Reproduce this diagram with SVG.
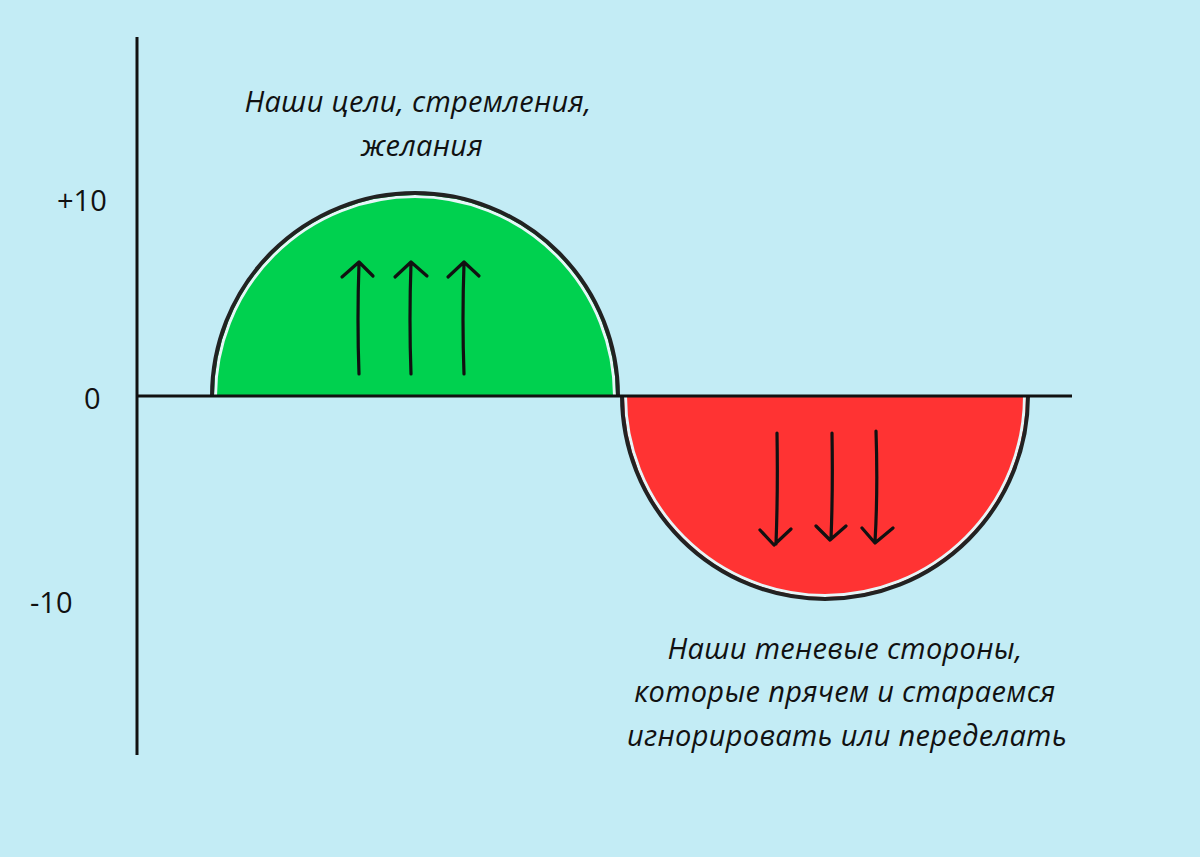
<svg xmlns="http://www.w3.org/2000/svg" width="1200" height="857" viewBox="0 0 1200 857">
<style>
.axis{stroke:#111;stroke-width:3;fill:none}
.rim{fill:none;stroke:#222;stroke-width:4}
.gap{fill:none;stroke:#e6f6f8;stroke-width:3}
.arr{fill:none;stroke:#111;stroke-width:3.2;stroke-linecap:round;stroke-linejoin:round}
.num{font-family:"Open Sans","Noto Sans",sans-serif;font-size:29px;fill:#111}
.lbl{font-family:"Open Sans","Noto Sans",sans-serif;font-style:italic;font-size:29px;fill:#111;text-anchor:middle;letter-spacing:0.3px}
</style>
<rect width="1200" height="857" fill="#c3ecf5"/>
<g id="green">
<path d="M212 396 A203 203 0 0 1 618 396 Z" fill="#00d14f"/>
<path class="gap" d="M215.5 396 A199.5 199.5 0 0 1 614.5 396"/>
<path class="rim" d="M212 396 A203 203 0 0 1 618 396"/>
</g>
<g id="red">
<path d="M622 396 A203 203 0 0 0 1028 396 Z" fill="#ff3333"/>
<path class="gap" d="M625.5 396 A199.5 199.5 0 0 0 1024.5 396"/>
<path class="rim" d="M622 396 A203 203 0 0 0 1028 396"/>
</g>
<g id="axes">
<line class="axis" x1="137" y1="37" x2="137" y2="755"/>
<line class="axis" x1="137" y1="396" x2="1072" y2="396"/>
</g>
<g id="up-arrows">
<path class="arr" d="M359 374 Q357 320 359 263 M342 277 L359 262 L373 276"/>
<path class="arr" d="M411 374 Q409 320 411 263 M395 277 L411 262 L427 276"/>
<path class="arr" d="M464 374 Q462 320 464 263 M448 277 L464 262 L479 276"/>
</g>
<g id="down-arrows">
<path class="arr" d="M777 433 Q778 490 776 544 M760 530 L774 545 L791 529"/>
<path class="arr" d="M832 433 Q833 490 831 539 M816 526 L830 540 L846 526"/>
<path class="arr" d="M876 431 Q878 490 875 542 M862 528 L875 543 L893 528"/>
</g>
<g id="labels">
<text class="num" x="57" y="211">+10</text>
<text class="num" x="84" y="409">0</text>
<text class="num" x="30" y="613">-10</text>
<text class="lbl" x="418" y="112">Наши цели, стремления,</text>
<text class="lbl" x="422" y="156">желания</text>
<text class="lbl" x="845" y="659">Наши теневые стороны,</text>
<text class="lbl" x="845" y="702">которые прячем и стараемся</text>
<text class="lbl" x="847" y="746">игнорировать или переделать</text>
</g>
</svg>
